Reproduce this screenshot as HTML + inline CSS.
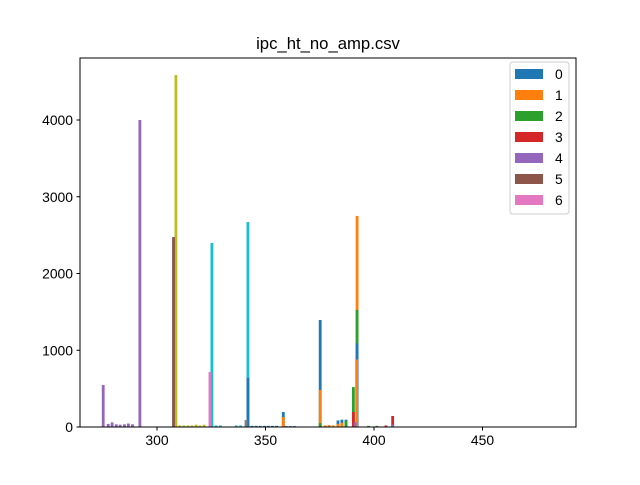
<!DOCTYPE html>
<html><head><meta charset="utf-8"><style>
body{margin:0;background:#fff;font-family:"Liberation Sans",sans-serif}
</style></head><body>
<svg id="c" width="640" height="480" xmlns="http://www.w3.org/2000/svg"></svg>
<script>
const seriesNames=["0","1","2","3","4","5","6"];
const colors=["#1f77b4","#ff7f0e","#2ca02c","#d62728","#9467bd","#8c564b","#e377c2","#7f7f7f","#bcbd22","#17becf"];
const barSeries=[
4,4,4,4,4,4,4,4,4,
5,8,8,8,8,8,8,8,8,
6,9,9,9,9,9,
7,0,9,0,0,0,0,0,0,0,
0,0,0,0,1,
0,1,2,1,1,1,
0,1,0,1,0,2,
2,3,4,1,2,0,1,
2,2,3,3,4];
const barX=[
275.2,277.5,279.3,281.2,283,285,286.8,288.7,292.1,
307.6,308.7,310.5,312.4,314.3,316.1,318,319.8,321.7,
324.4,325.3,327.2,329.2,336.5,338.5,
341,341.9,341.9,343.8,345.7,347.6,349.5,351.3,353.2,355.1,
359.5,361.5,363.3,358.2,358.2,
375.2,375.2,375.2,377.5,379.3,381.2,
383.4,383.4,385.2,385.2,387.1,387.1,
390.5,390.5,391.3,392.2,392.2,392.2,392,
397.5,401.3,405.5,408.6,408.6];
const barCounts=[
547,40,60,35,30,35,45,35,4000,
2475,4586,20,20,20,20,30,20,30,
716,2397,20,20,20,20,
90,640,2670,15,15,15,15,15,15,15,
12,12,12,195,130,
1394,482,50,20,25,20,
85,40,95,55,95,80,
520,195,60,2750,1525,1090,880,
15,15,20,143,30];
const yTicks=[0,1000,2000,3000,4000];
const xTicks=[300,350,400,450];
const X0=264.5,X1=493.1,PL=80,PR=576,PT=58,PB=427,YMAX=4808;
const sx=v=>PL+(v-X0)/(X1-X0)*(PR-PL);
const sy=v=>PB-v/YMAX*(PB-PT);
const svg=document.getElementById('c');const NS="http://www.w3.org/2000/svg";
function mk(t,a,p){const e=document.createElementNS(NS,t);for(const k in a)e.setAttribute(k,a[k]);(p||svg).appendChild(e);return e;}
const tt=mk('text',{x:328,y:49,'text-anchor':'middle','font-size':16.7,fill:'#000'});tt.textContent='ipc_ht_no_amp.csv';


const g=mk('g',{});


const idx=barCounts.map((c,i)=>i).sort((a,b)=>barCounts[b]-barCounts[a]);
const BW=1.3;
idx.forEach(i=>{const x=sx(barX[i]-BW/2),w=sx(barX[i]+BW/2)-x;
const r=mk('rect',{x:x,y:sy(barCounts[i]),width:w,height:PB-sy(barCounts[i]),fill:colors[barSeries[i]]},g);

});
const ax=mk('rect',{x:PL,y:PT,width:PR-PL,height:PB-PT,fill:'none',stroke:'#000','stroke-width':1});


yTicks.forEach(v=>{const y=sy(v);mk('line',{x1:PL-3.5,x2:PL,y1:y,y2:y,stroke:'#000'});
const t=mk('text',{x:PL-7,y:y+5,'text-anchor':'end','font-size':13.9});t.textContent=v;

});
xTicks.forEach(v=>{const x=sx(v);mk('line',{x1:x,x2:x,y1:PB,y2:PB+3.5,stroke:'#000'});
const t=mk('text',{x:x,y:PB+18,'text-anchor':'middle','font-size':13.9});t.textContent=v;

});
const lg=mk('g',{});


mk('rect',{x:510,y:62,width:59,height:152,rx:3,fill:'#fff','fill-opacity':0.8,stroke:'#ccc'},lg);
seriesNames.forEach((n,i)=>{const y=69+i*21;
const e=mk('g',{},lg);


mk('rect',{x:515,y:y,width:28,height:10,fill:colors[i]},e);
const t=mk('text',{x:555,y:y+10,'font-size':13.9},e);t.textContent=n;});
</script>
</body></html>
